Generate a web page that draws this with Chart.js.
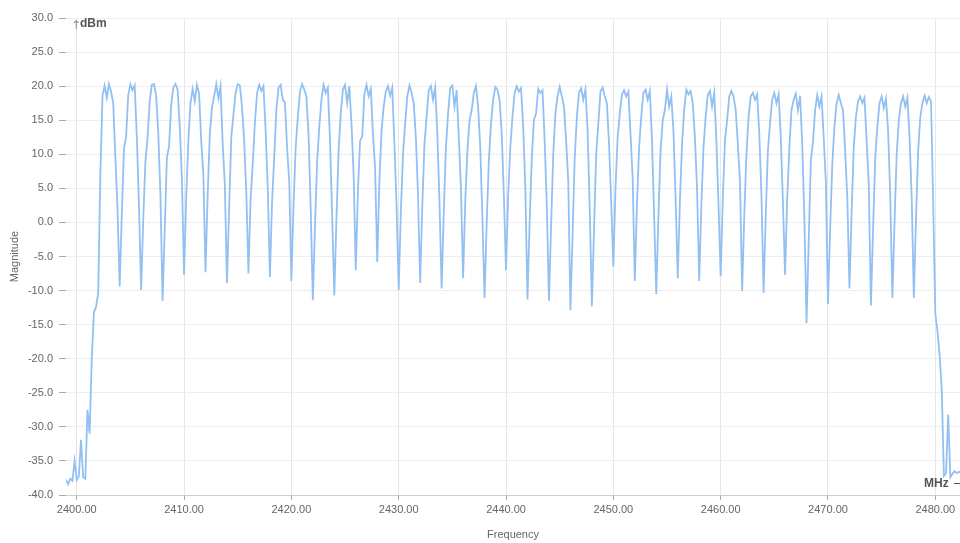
<!DOCTYPE html>
<html>
<head>
<meta charset="utf-8">
<script src="https://cdn.jsdelivr.net/npm/chart.js@4.4.1/dist/chart.umd.min.js"></script>
<style>
  html, body { margin: 0; padding: 0; background: #fff; }
  #wrap { width: 960px; height: 543px; }
</style>
</head>
<body>
<div id="wrap"><canvas id="spectrumChart" width="960" height="543"></canvas></div>
<script>
'use strict';

// sweep grid (MHz)
const frequencyStart = 2399.0;
const frequencyStep = 0.2;

// 2399.0 .. 2401.8 noise floor and ramp
const magnitudeLeadIn = [
  -37.7, -38.4, -37.6, -37.9, -35.0, -37.8, -37.2, -31.9, -37.4, -37.6,
  -27.5, -31.0, -20.0, -13.2, -12.4,
];

// 2402.0 .. 2479.8, one row per 2 MHz channel
const magnitudeChannels = [
  -10.4, 6.9, 18.6, 20.1, 18.3, 20.3, 19.2, 17.5, 9.5, 2.0,
  -9.4, 1.2, 10.8, 12.6, 18.7, 20.3, 19.4, 20.1, 12.5, 2.5,
  -9.9, 0.5, 9.0, 12.4, 17.8, 20.2, 20.3, 18.6, 13.0, 4.0,
  -11.5, -1.0, 9.5, 11.1, 17.2, 19.8, 20.3, 19.5, 14.0, 6.5,
  -7.7, 3.5, 12.0, 17.5, 19.6, 17.8, 20.2, 18.9, 12.0, 7.0,
  -7.3, 4.0, 13.0, 16.8, 18.5, 20.3, 18.2, 20.0, 11.5, 5.5,
  -8.9, 2.0, 12.5, 15.8, 19.0, 20.3, 20.1, 17.0, 12.0, 4.5,
  -7.5, 3.5, 8.5, 14.6, 18.9, 20.2, 19.3, 20.0, 13.5, 5.0,
  -8.0, 3.0, 9.5, 16.5, 19.8, 20.2, 18.0, 17.6, 11.0, 6.0,
  -8.6, 2.5, 11.0, 15.5, 19.2, 20.3, 19.5, 18.5, 13.0, 2.0,
  -11.4, -0.5, 9.0, 14.0, 18.0, 20.2, 19.0, 19.8, 12.0, 1.0,
  -10.7, 0.5, 10.5, 16.0, 19.5, 20.2, 17.5, 20.0, 14.5, 7.0,
  -7.0, 4.5, 12.0, 12.6, 18.8, 20.2, 18.5, 19.6, 13.0, 8.0,
  -5.8, 6.0, 13.5, 17.0, 19.2, 20.0, 18.6, 19.8, 11.5, 2.5,
  -9.9, 1.5, 10.0, 14.5, 18.5, 20.1, 19.0, 17.5, 12.5, 4.0,
  -8.9, 2.5, 11.5, 15.5, 19.4, 20.0, 18.0, 19.8, 13.0, 3.0,
  -9.7, 1.5, 11.0, 16.0, 19.7, 20.1, 17.0, 19.4, 12.5, 5.0,
  -8.2, 3.0, 10.5, 15.0, 16.5, 19.0, 20.0, 17.0, 11.0, 0.5,
  -11.1, 0.0, 9.0, 14.5, 18.0, 19.9, 19.5, 18.0, 13.0, 4.0,
  -7.0, 4.0, 11.0, 15.5, 19.0, 20.0, 19.2, 19.7, 14.0, 5.0,
  -11.3, 0.0, 9.5, 15.0, 16.0, 19.6, 19.0, 19.4, 12.0, 2.5,
  -11.5, -0.5, 10.0, 16.0, 18.5, 19.9, 18.5, 17.0, 12.0, 6.0,
  -12.9, -2.0, 9.5, 15.5, 19.0, 19.7, 18.0, 19.5, 13.5, 2.0,
  -12.3, -1.0, 10.0, 14.5, 19.2, 19.8, 18.5, 17.5, 11.5, 3.0,
  -6.5, 5.0, 12.5, 16.0, 18.8, 19.4, 18.5, 19.2, 13.0, 6.5,
  -8.6, 2.5, 11.0, 15.5, 19.0, 19.5, 18.0, 19.3, 12.0, 1.0,
  -10.5, 1.0, 10.5, 15.0, 16.5, 19.5, 17.0, 18.5, 13.5, 3.5,
  -8.2, 3.0, 11.5, 16.5, 19.5, 18.8, 19.3, 17.5, 12.5, 5.0,
  -8.6, 2.5, 11.0, 15.5, 18.7, 19.3, 17.0, 19.0, 12.0, 2.5,
  -7.9, 3.5, 12.0, 15.0, 18.5, 19.3, 18.5, 16.5, 11.5, 6.0,
  -10.1, 1.0, 10.0, 15.5, 18.5, 19.0, 18.0, 18.8, 13.0, 4.0,
  -10.3, 1.0, 10.5, 14.5, 18.0, 19.0, 17.5, 18.8, 12.5, 3.0,
  -7.7, 3.5, 11.0, 16.5, 18.0, 18.9, 16.5, 18.6, 11.5, 0.5,
  -14.8, -3.0, 9.0, 11.8, 16.5, 18.7, 17.0, 18.5, 12.5, 6.0,
  -12.0, -1.0, 8.5, 14.0, 17.5, 18.7, 17.5, 16.5, 10.5, 3.5,
  -9.7, 1.5, 11.0, 15.5, 17.8, 18.5, 17.5, 18.3, 12.0, 5.5,
  -12.2, -1.0, 9.5, 14.0, 17.5, 18.5, 16.8, 18.2, 13.5, 4.0,
  -11.1, 0.0, 10.0, 15.0, 17.5, 18.5, 17.0, 18.3, 12.5, 3.5,
  -11.1, 0.5, 10.5, 15.5, 17.5, 18.6, 17.5, 18.4, 17.8, 3.0,
];

// 2480.0 .. 2482.4 roll-off back to the floor
const magnitudeTail = [
  -13.4, -15.9, -19.5, -24.5, -37.2, -36.8, -28.2, -37.4, -36.9, -36.5,
  -36.8, -36.6, -36.7,
];

const frequencyTicks = [2400, 2410, 2420, 2430, 2440, 2450, 2460, 2470, 2480];
const magnitudeTicks = [-40, -35, -30, -25, -20, -15, -10, -5, 0, 5, 10, 15, 20, 25, 30];

const fontFamily = "'Liberation Sans', Arial, sans-serif";
Chart.defaults.font.family = fontFamily;

const magnitudes = magnitudeLeadIn.concat(magnitudeChannels, magnitudeTail);
const points = magnitudes.map((m, i) => ({
  x: Number((frequencyStart + i * frequencyStep).toFixed(1)),
  y: m,
}));

const axisNamePlugin = {
  id: 'axisNames',
  afterDraw(chart) {
    const { ctx, chartArea } = chart;
    ctx.save();
    ctx.textBaseline = 'middle';
    ctx.fillStyle = '#888';
    ctx.font = "12px 'DejaVu Sans', sans-serif";
    ctx.fillText('↑', chartArea.left + 5, chartArea.top + 8);
    ctx.fillStyle = '#555';
    ctx.font = `bold 12px ${fontFamily}`;
    ctx.fillText('dBm', chartArea.left + 14, chartArea.top + 6);
    ctx.fillText('MHz', chartArea.right - 36, chartArea.bottom - 11);
    ctx.font = "12px 'DejaVu Sans', sans-serif";
    ctx.fillText('→', chartArea.right - 7, chartArea.bottom - 11);
    ctx.restore();
  },
};

const canvas = document.getElementById('spectrumChart');

new Chart(canvas, {
  type: 'line',
  data: {
    datasets: [{
      data: points,
      borderColor: '#93c0f2',
      borderWidth: 1.8,
      pointRadius: 0,
      tension: 0,
      fill: false,
    }],
  },
  options: {
    responsive: false,
    animation: false,
    devicePixelRatio: 1,
    layout: {
      autoPadding: false,
      padding: { top: 18, right: 0, bottom: 0, left: 0 },
    },
    plugins: {
      legend: { display: false },
      tooltip: { enabled: false },
    },
    scales: {
      x: {
        type: 'linear',
        min: 2399.0,
        max: 2482.3,
        afterBuildTicks: (axis) => {
          axis.ticks = frequencyTicks.map((value) => ({ value }));
        },
        afterFit: (scale) => {
          scale.height = 48;
          scale.paddingLeft = 0;
          scale.paddingRight = 0;
        },
        ticks: {
          callback: (value) => Number(value).toFixed(2),
          color: '#666',
          font: { size: 11 },
          padding: 3,
          maxRotation: 0,
          autoSkip: false,
        },
        grid: { color: '#e6e6e6', tickColor: '#aaa', tickLength: 5 },
        border: { color: '#cfcfcf' },
        title: {
          display: true,
          text: 'Frequency',
          color: '#666',
          font: { size: 11 },
          padding: { top: 0, bottom: 1 },
        },
      },
      y: {
        min: -40,
        max: 30,
        afterBuildTicks: (axis) => {
          axis.ticks = magnitudeTicks.map((value) => ({ value }));
        },
        afterFit: (scale) => {
          scale.width = 66;
          scale.paddingTop = 0;
          scale.paddingBottom = 0;
        },
        ticks: {
          callback: (value) => Number(value).toFixed(1),
          color: '#666',
          font: { size: 11 },
          padding: 6,
          autoSkip: false,
        },
        grid: { color: '#eeeeee', tickColor: '#aaa', tickLength: 7 },
        border: { display: false },
        title: {
          display: true,
          text: 'Magnitude',
          color: '#666',
          font: { size: 11 },
          padding: { top: 8, bottom: 0 },
        },
      },
    },
  },
  plugins: [axisNamePlugin],
});
</script>
</body>
</html>
